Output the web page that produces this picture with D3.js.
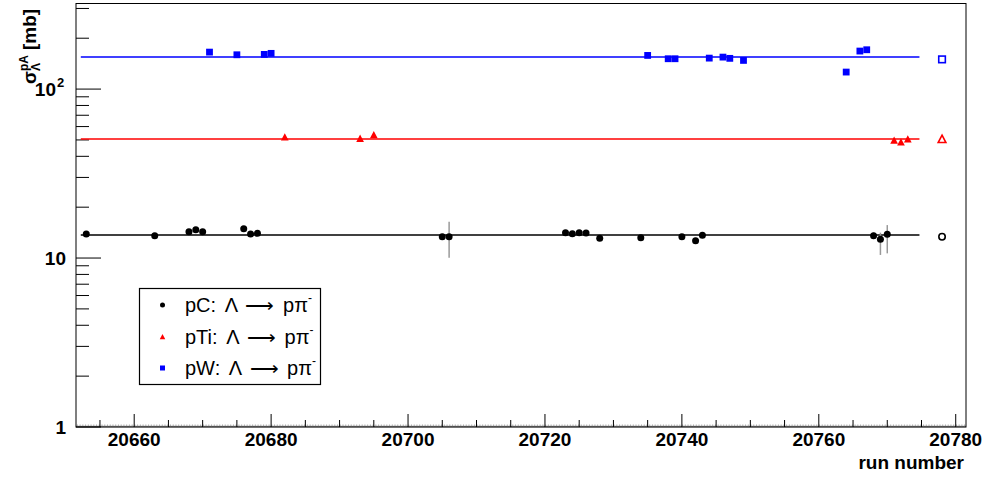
<!DOCTYPE html>
<html><head><meta charset="utf-8">
<script src="https://cdn.jsdelivr.net/npm/d3@7"></script>
<style>body{margin:0;background:#fff}svg{display:block}</style>
</head><body>
<svg id="c" width="984" height="479"></svg>
<script>
// ---- data ----
const pcRuns = [20653,20663,20668,20669,20670,20676,20677,20678,20705,20706,20723,20724,20725,20726,20728,20734,20740,20742,20743,20768,20769,20770];
const pcVals = [13.87,13.55,14.31,14.71,14.31,14.9,13.87,14.0,13.37,13.37,14.12,13.93,14.12,14.05,13.08,13.19,13.37,12.66,13.62,13.55,12.93,13.81];
const pcErrLo = [0.4,0.4,0.4,0.4,0.4,0.4,0.4,0.4,0.5,3.33,0.4,0.4,0.4,0.4,0.4,0.4,0.4,0.4,0.4,0.6,2.5,3.15];
const pcErrHi = [0.4,0.4,0.4,0.4,0.4,0.4,0.4,0.4,0.5,3.03,0.4,0.4,0.4,0.4,0.4,0.4,0.4,0.4,0.4,0.6,1.2,1.86];
const ptiRuns = [20682,20693,20695,20771,20772,20773];
const ptiVals = [51.8,50.8,53.4,49.5,48.4,50.4];
const ptiErr = [1.2,1.2,1.2,1.2,1.2,1.2];
const pwRuns = [20671,20675,20679,20680,20735,20738,20739,20744,20746,20747,20749,20764,20766,20767];
const pwVals = [165.5,159.6,160.4,162.7,158.2,151.2,151.2,152.5,154.6,152.0,147.8,126.1,167.9,170.9];
const pwErr = [3,3,3,3,3,3,3,3,3,3,3,3,3,3];
const fitVals = [13.68, 50.6, 154.6];        // pC, pTi, pW fitted constants
const fitRange = [20652.2, 20774.7];
const avgRun = 20778;
const avgVals = [13.37, 50.4, 149.9];          // pC, pTi, pW averages
const xDomain = [20651.5, 20781.5];
const yDomain = [1, 321];
const xMajorTicks = [20660,20680,20700,20720,20740,20760,20780];
const yMajorTicks = [1,10,100];
const legendLabels = ["pC: Λ ⟶ pπ","pTi: Λ ⟶ pπ","pW: Λ ⟶ pπ"];

// ---- layout ----
const svg = d3.select("#c");
const L = 76, R = 966, T = 3.5, B = 427;
const x = d3.scaleLinear().domain(xDomain).range([L, R]);
const y = d3.scaleLog().domain(yDomain).range([B, T]);
const FONT = "'Liberation Sans', Arial, Helvetica, sans-serif";

// bottom axis decoration: tiny grey ticks on grey baseline
const g = svg.append("g");
g.append("line").attr("x1",L).attr("x2",R).attr("y1",B-0.5).attr("y2",B-0.5).attr("stroke","#999").attr("stroke-width",1.5);
g.selectAll(".tt").data(d3.range(xDomain[0]+0.2, xDomain[1], 0.4)).enter().append("line")
  .attr("x1",d=>x(d)).attr("x2",d=>x(d)).attr("y1",B).attr("y2",B-2.5).attr("stroke","#aaa").attr("stroke-width",1);

// frame
svg.append("rect").attr("x",L).attr("y",T).attr("width",R-L).attr("height",B-T)
  .attr("fill","none").attr("stroke","#000").attr("stroke-width",1);

// x ticks
const xMinor = d3.range(20655, 20781, 5);
svg.selectAll(".xm").data(xMinor).enter().append("line")
  .attr("x1",d=>x(d)).attr("x2",d=>x(d)).attr("y1",B).attr("y2",d=> d%20===0 ? B-13 : B-7)
  .attr("stroke","#000").attr("stroke-width",1);
svg.selectAll(".xl").data(xMajorTicks).enter().append("text")
  .attr("x",d=>x(d)).attr("y",446).attr("text-anchor","middle")
  .attr("font-family",FONT).attr("font-weight","bold").attr("font-size",19).text(d=>d);
svg.append("text").attr("x",964).attr("y",469).attr("text-anchor","end")
  .attr("font-family",FONT).attr("font-weight","bold").attr("font-size",19).text("run number");

// y ticks
const yMinor = [];
[1,10,100].forEach(dec=>{ for(let k=2;k<=9;k++){ const v=dec*k; if(v<=yDomain[1]) yMinor.push(v);} });
svg.selectAll(".ym").data(yMinor).enter().append("line")
  .attr("x1",L).attr("x2",L+13).attr("y1",d=>y(d)).attr("y2",d=>y(d)).attr("stroke","#000");
svg.selectAll(".yM").data(yMajorTicks).enter().append("line")
  .attr("x1",L).attr("x2",L+25).attr("y1",d=>y(d)).attr("y2",d=>y(d)).attr("stroke","#000");
yMajorTicks.forEach(v=>{
  const t = svg.append("text").attr("y",y(v)+7).attr("font-family",FONT).attr("font-weight","bold").attr("font-size",19);
  if (v===100){
    t.attr("x",56).attr("text-anchor","end").text("10");
    svg.append("text").attr("x",57).attr("y",y(v)-2).attr("font-family",FONT).attr("font-weight","bold").attr("font-size",13).text("2");
  } else {
    t.attr("x",66).attr("text-anchor","end").text(v===1?"1":"10");
  }
});

// y title
const yt = svg.append("text").attr("transform","translate(36,84) rotate(-90)")
  .attr("font-family",FONT).attr("font-weight","bold").attr("font-size",19);
yt.append("tspan").text("σ");
yt.append("tspan").attr("font-size",12).attr("dy",4).text("Λ");
yt.append("tspan").attr("font-size",12).attr("dx",-8).attr("dy",-12).text("pA");
yt.append("tspan").attr("dx",5).attr("dy",8).text("[mb]");

// fit lines
const fitColors = ["#000","#ff0000","#0000ff"];
svg.selectAll(".fit").data(fitVals).enter().append("line")
  .attr("x1",x(fitRange[0])).attr("x2",x(fitRange[1])).attr("y1",d=>y(d)).attr("y2",d=>y(d))
  .attr("stroke",(d,i)=>fitColors[i]).attr("stroke-width",1.5);

// error bars
function errBars(runs, vals, lo, hi){
  svg.append("g").selectAll("line").data(runs).enter().append("line")
    .attr("x1",d=>x(d)).attr("x2",d=>x(d))
    .attr("y1",(d,i)=>y(vals[i]+hi[i])).attr("y2",(d,i)=>y(vals[i]-lo[i]))
    .attr("stroke","#999").attr("stroke-width",1.5);
}
errBars(pcRuns, pcVals, pcErrLo, pcErrHi);
errBars(ptiRuns, ptiVals, ptiErr, ptiErr);
errBars(pwRuns, pwVals, pwErr, pwErr);

// markers
const tri = (cx,cy,s)=>`M${cx},${cy-s*0.6}L${cx+s*0.55},${cy+s*0.45}L${cx-s*0.55},${cy+s*0.45}Z`;
svg.append("g").selectAll("circle").data(pcRuns).enter().append("circle")
  .attr("cx",d=>x(d)).attr("cy",(d,i)=>y(pcVals[i])).attr("r",3.5).attr("fill","#000");
svg.append("g").selectAll("path").data(ptiRuns).enter().append("path")
  .attr("d",(d,i)=>tri(x(d),y(ptiVals[i]),7)).attr("fill","#ff0000");
svg.append("g").selectAll("rect").data(pwRuns).enter().append("rect")
  .attr("x",d=>x(d)-3.4).attr("y",(d,i)=>y(pwVals[i])-3.4).attr("width",6.8).attr("height",6.8).attr("fill","#0000ff");

// averages (open markers)
svg.append("circle").attr("cx",x(avgRun)).attr("cy",y(avgVals[0])).attr("r",3.2)
  .attr("fill","#fff").attr("stroke","#000").attr("stroke-width",1.6);
svg.append("path").attr("d",tri(x(avgRun),y(avgVals[1]),7)).attr("fill","#fff").attr("stroke","#ff0000").attr("stroke-width",1.6);
svg.append("rect").attr("x",x(avgRun)-3.3).attr("y",y(avgVals[2])-3.3).attr("width",6.6).attr("height",6.6)
  .attr("fill","#fff").attr("stroke","#0000ff").attr("stroke-width",1.6);

// legend
const lg = svg.append("g");
lg.append("rect").attr("x",139.5).attr("y",288.5).attr("width",181).attr("height",96)
  .attr("fill","#fff").attr("stroke","#000").attr("stroke-width",1.2);
const rowsY = [305, 337, 368];
lg.append("circle").attr("cx",162.5).attr("cy",rowsY[0]).attr("r",2.5).attr("fill","#000");
lg.append("path").attr("d",tri(162.5,rowsY[1],5)).attr("fill","#ff0000");
lg.append("rect").attr("x",160).attr("y",rowsY[2]-2.5).attr("width",5).attr("height",5).attr("fill","#0000ff");
legendLabels.forEach((s,i)=>{
  const t = lg.append("text").attr("x",185).attr("y",rowsY[i]+7).attr("font-family",FONT)
    .attr("font-size",20).attr("word-spacing",3);
  t.append("tspan").text(s);
  t.append("tspan").attr("font-size",12).attr("dy",-10).text("-");
});
</script>
</body></html>
